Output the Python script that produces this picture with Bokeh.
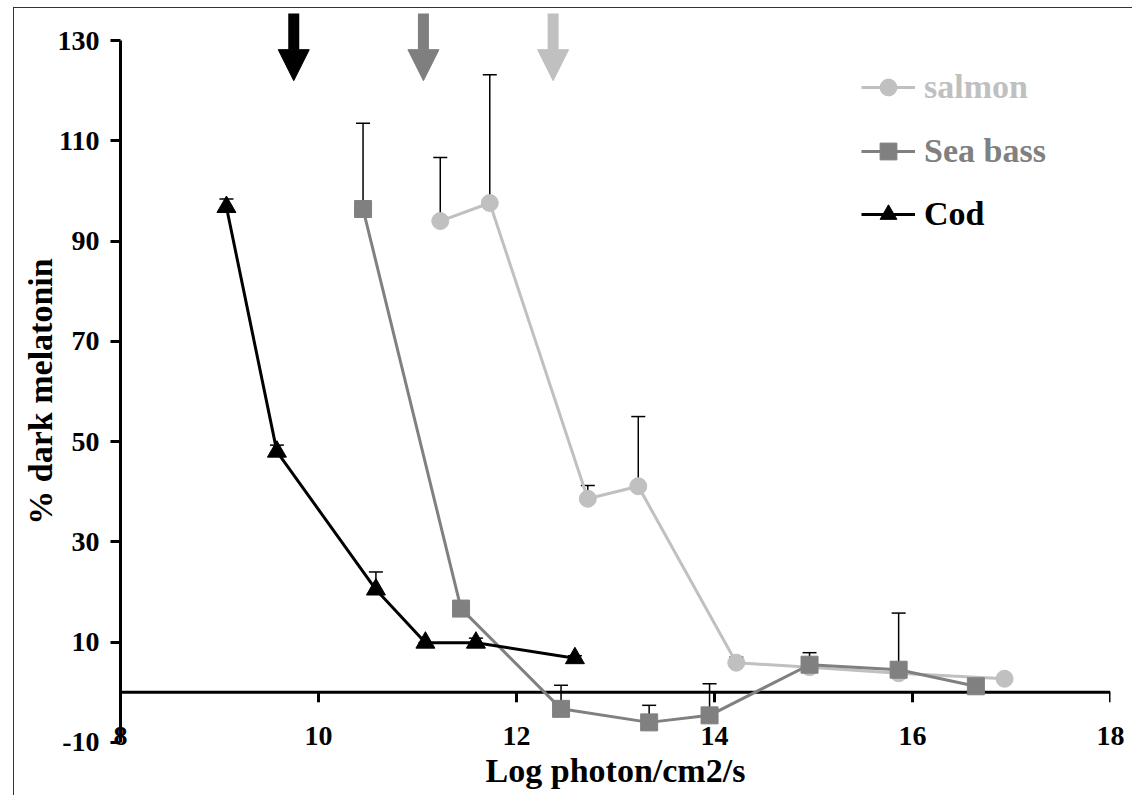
from bokeh.plotting import figure
from bokeh.models import (Range1d, FixedTicker, Span, Whisker, TeeHead, ColumnDataSource,
                          Legend, LegendItem, Arrow, NormalHead, PrintfTickFormatter)
from bokeh.embed import file_html
from bokeh.resources import INLINE

# ---- data ----
cod_x = [9.07, 9.58, 10.58, 11.08, 11.59, 12.59]
cod_y = [96.8, 48.0, 20.5, 9.9, 9.9, 6.8]
cod_upper = [98.4, 49.3, 24.0, 9.9, 10.8, 7.3]

bass_x = [10.45, 11.44, 12.45, 13.34, 13.95, 14.96, 15.86, 16.64]
bass_y = [96.4, 16.7, -3.3, -6.0, -4.6, 5.5, 4.5, 1.2]
bass_upper = [113.5, 16.7, 1.4, -2.6, 1.7, 7.9, 15.8, 1.2]

salmon_x = [11.23, 11.73, 12.72, 13.23, 14.22, 14.96, 15.86, 16.93]
salmon_y = [94.0, 97.6, 38.6, 41.1, 5.9, 5.0, 3.8, 2.7]
salmon_upper = [106.7, 123.2, 41.25, 55.0, 7.0, 5.0, 3.8, 2.7]

arrow_x = [9.75, 11.06, 12.37]
arrow_colors = ["black", "#7f7f7f", "#c0c0c0"]
arrow_top = 135.4
arrow_tip = 122.0

x_ticks = [8, 10, 12, 14, 16, 18]
y_ticks = [-10, 10, 30, 50, 70, 90, 110, 130]

SERIF = "Liberation Serif"
FRAME_H = 762
Y0, Y1 = -16, 136

p = figure(frame_width=990, frame_height=FRAME_H,
           x_range=Range1d(8, 18), y_range=Range1d(Y0, Y1),
           output_backend="svg", toolbar_location=None,
           min_border_left=106, min_border_right=22, min_border_top=2, min_border_bottom=23)
p.grid.visible = False
p.outline_line_color = None
p.styles = {"margin-left": "13px", "margin-top": "7px",
            "border-left": "1px solid #333333", "border-top": "1px solid #333333"}

# y axis
ya = p.yaxis[0]
ya.ticker = FixedTicker(ticks=y_ticks)
ya.formatter = PrintfTickFormatter(format="%d")
ya.bounds = (-10, 130)
ya.axis_line_width = 3
ya.axis_line_color = "black"
ya.major_tick_line_width = 3
ya.major_tick_line_color = "black"
ya.major_tick_out = 10
ya.major_tick_in = 0
ya.minor_tick_line_color = None
ya.major_label_text_font = SERIF
ya.major_label_text_font_style = "bold"
ya.major_label_text_font_size = "28px"
ya.major_label_text_color = "black"
ya.major_label_standoff = 11
ya.axis_label = "% dark melatonin"
ya.axis_label_text_font = SERIF
ya.axis_label_text_font_style = "bold"
ya.axis_label_text_font_size = "34px"
ya.axis_label_text_color = "black"
ya.axis_label_standoff = -4

# x axis (labels only; the line is drawn at y = 0)
xa = p.xaxis[0]
xa.ticker = FixedTicker(ticks=x_ticks)
xa.formatter = PrintfTickFormatter(format="%d")
xa.axis_line_color = None
xa.major_tick_line_color = None
xa.minor_tick_line_color = None
xa.major_tick_out = 0
xa.major_tick_in = 0
xa.major_label_text_font = SERIF
xa.major_label_text_font_style = "bold"
xa.major_label_text_font_size = "28px"
xa.major_label_text_color = "black"
xa.major_label_standoff = -46
xa.axis_label = "Log photon/cm2/s"
xa.axis_label_text_font = SERIF
xa.axis_label_text_font_style = "bold"
xa.axis_label_text_font_size = "34px"
xa.axis_label_text_color = "black"
xa.axis_label_standoff = 4

p.add_layout(Span(location=0, dimension="width", line_color="black", line_width=3, level="underlay"))
tick_len = 10 * (Y1 - Y0) / FRAME_H
p.segment(x0=x_ticks, y0=[0] * len(x_ticks), x1=x_ticks, y1=[-tick_len] * len(x_ticks),
          line_color="black", line_width=3, level="underlay")

# error bars
for xs, ys, ups in [(salmon_x, salmon_y, salmon_upper), (bass_x, bass_y, bass_upper),
                    (cod_x, cod_y, cod_upper)]:
    src = ColumnDataSource(dict(x=xs, y=ys, upper=ups))
    p.add_layout(Whisker(source=src, base="x", lower="y", upper="upper", dimension="height",
                         line_color="black", line_width=1.5, level="underlay",
                         upper_head=TeeHead(size=14, line_width=1.5, line_color="black"),
                         lower_head=None))

# series
series = [
    ("salmon", salmon_x, salmon_y, "#c0c0c0", "circle", 17, 664),
    ("Sea bass", bass_x, bass_y, "#808080", "square", 17, 600),
    ("Cod", cod_x, cod_y, "black", "triangle", 19, 537),
]
for label, xs, ys, col, mk, sz, ly in series:
    lr = p.line(xs, ys, line_color=col, line_width=3)
    sr = p.scatter(xs, ys, marker=mk, size=sz, fill_color=col, line_color=col)
    leg = Legend(items=[LegendItem(label=label, renderers=[lr, sr])], location=(741, ly),
                 glyph_width=54, glyph_height=42, label_standoff=9, padding=0, margin=0,
                 spacing=0, border_line_color=None, background_fill_alpha=0,
                 label_text_font=SERIF, label_text_font_style="bold",
                 label_text_font_size="34px", label_text_color=col, label_height=42)
    p.add_layout(leg, "center")

# arrows
for ax, col in zip(arrow_x, arrow_colors):
    p.add_layout(Arrow(x_start=ax, y_start=arrow_top, x_end=ax, y_end=arrow_tip,
                       line_width=11, line_color=col,
                       end=NormalHead(size=31, fill_color=col, line_color=col, line_width=1)))

open("out.html", "w").write(file_html(p, INLINE))
